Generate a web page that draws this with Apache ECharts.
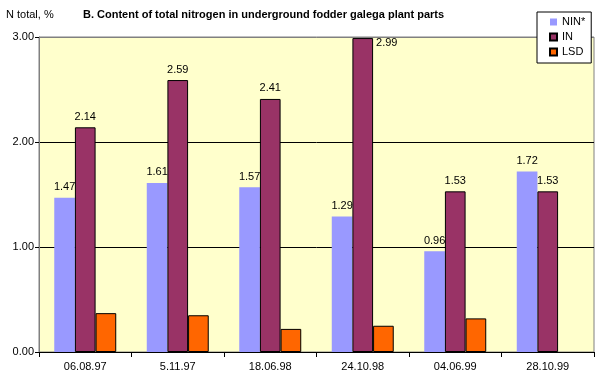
<!DOCTYPE html>
<html><head><meta charset="utf-8">
<script src="https://cdn.jsdelivr.net/npm/echarts@6/dist/echarts.min.js"></script>
<style>html,body{margin:0;padding:0;background:#fff}#c{width:600px;height:386px}</style>
</head><body><div id="c"></div>
<script>
const categories = ['06.08.97','5.11.97','18.06.98','24.10.98','04.06.99','28.10.99'];
const ninValues = [1.47, 1.61, 1.57, 1.29, 0.96, 1.72];
const inValues = [2.14, 2.59, 2.41, 2.99, 1.53, 1.53];
const lsdValues = [0.37, 0.35, 0.22, 0.25, 0.32, null];
const yTicks = [0, 1, 2, 3];
const seriesNames = ['NIN*', 'IN', 'LSD'];
const titleText = 'B. Content of total nitrogen in underground fodder galega plant parts';
const yName = 'N total, %';

const FONT = '"Liberation Sans Narrow", "Liberation Sans", Arial, sans-serif';
const chart = echarts.init(document.getElementById('c'));
const lbl = {show: true, position: 'top', distance: 5, color: '#000', fontSize: 11, fontFamily: FONT,
  formatter: p => p.value == null ? '' : Number(p.value).toFixed(2)};
const inData = inValues.map((v, i) => i === 3 ? {value: v, label: {position: ['100%', 0], align: 'left', verticalAlign: 'top', offset: [3, -1]}} : v);

chart.setOption({
  animation: false,
  backgroundColor: '#fff',
  textStyle: {fontFamily: FONT},
  title: [
    {text: titleText, left: 83, top: 9, padding: 0, textStyle: {fontSize: 11, fontWeight: 'bold', color: '#000', fontFamily: FONT}},
    {text: yName, left: 6, top: 9, padding: 0, textStyle: {fontSize: 11, fontWeight: 'normal', color: '#000', fontFamily: FONT}}
  ],
  legend: {
    orient: 'vertical', left: 537, top: 12,
    data: seriesNames,
    itemWidth: 7, itemHeight: 7, itemGap: 3, itemTextGap: 3,
    padding: [4, 6, 5, 12],
    borderColor: '#000', borderWidth: 1, backgroundColor: '#fff',
    textStyle: {fontSize: 11, color: '#000', fontFamily: FONT, lineHeight: 12},
    icon: 'rect'
  },
  grid: {left: 39, right: 6, top: 37, bottom: 34, show: true, backgroundColor: '#FFFFCC', borderColor: '#808080', borderWidth: 1},
  xAxis: {
    type: 'category', data: categories,
    axisLine: {lineStyle: {color: '#000', width: 1}},
    axisTick: {show: true, length: 5, lineStyle: {color: '#000'}},
    axisLabel: {color: '#000', fontSize: 11, margin: 9, fontFamily: FONT}
  },
  yAxis: {
    type: 'value', min: yTicks[0], max: yTicks[yTicks.length - 1], interval: 1,
    axisLine: {show: true, lineStyle: {color: '#808080', width: 1}},
    axisTick: {show: true, length: 4, lineStyle: {color: '#000'}},
    axisLabel: {color: '#000', fontSize: 11, margin: 5, fontFamily: FONT, formatter: v => v.toFixed(2)},
    splitLine: {show: true, lineStyle: {color: ['#000', '#000', '#000', '#808080'], width: 1}}
  },
  series: [
    {name: seriesNames[0], type: 'bar', data: ninValues, barGap: '0%', barCategoryGap: '33%',
     itemStyle: {color: '#9999FF'}, label: lbl},
    {name: seriesNames[1], type: 'bar', data: inData, barGap: '0%', barCategoryGap: '33%',
     itemStyle: {color: '#993366', borderColor: '#000', borderWidth: 1}, label: lbl},
    {name: seriesNames[2], type: 'bar', data: lsdValues, barGap: '0%', barCategoryGap: '33%',
     itemStyle: {color: '#FF6600', borderColor: '#000', borderWidth: 1}, label: {show: false}}
  ]
});
</script></body></html>
